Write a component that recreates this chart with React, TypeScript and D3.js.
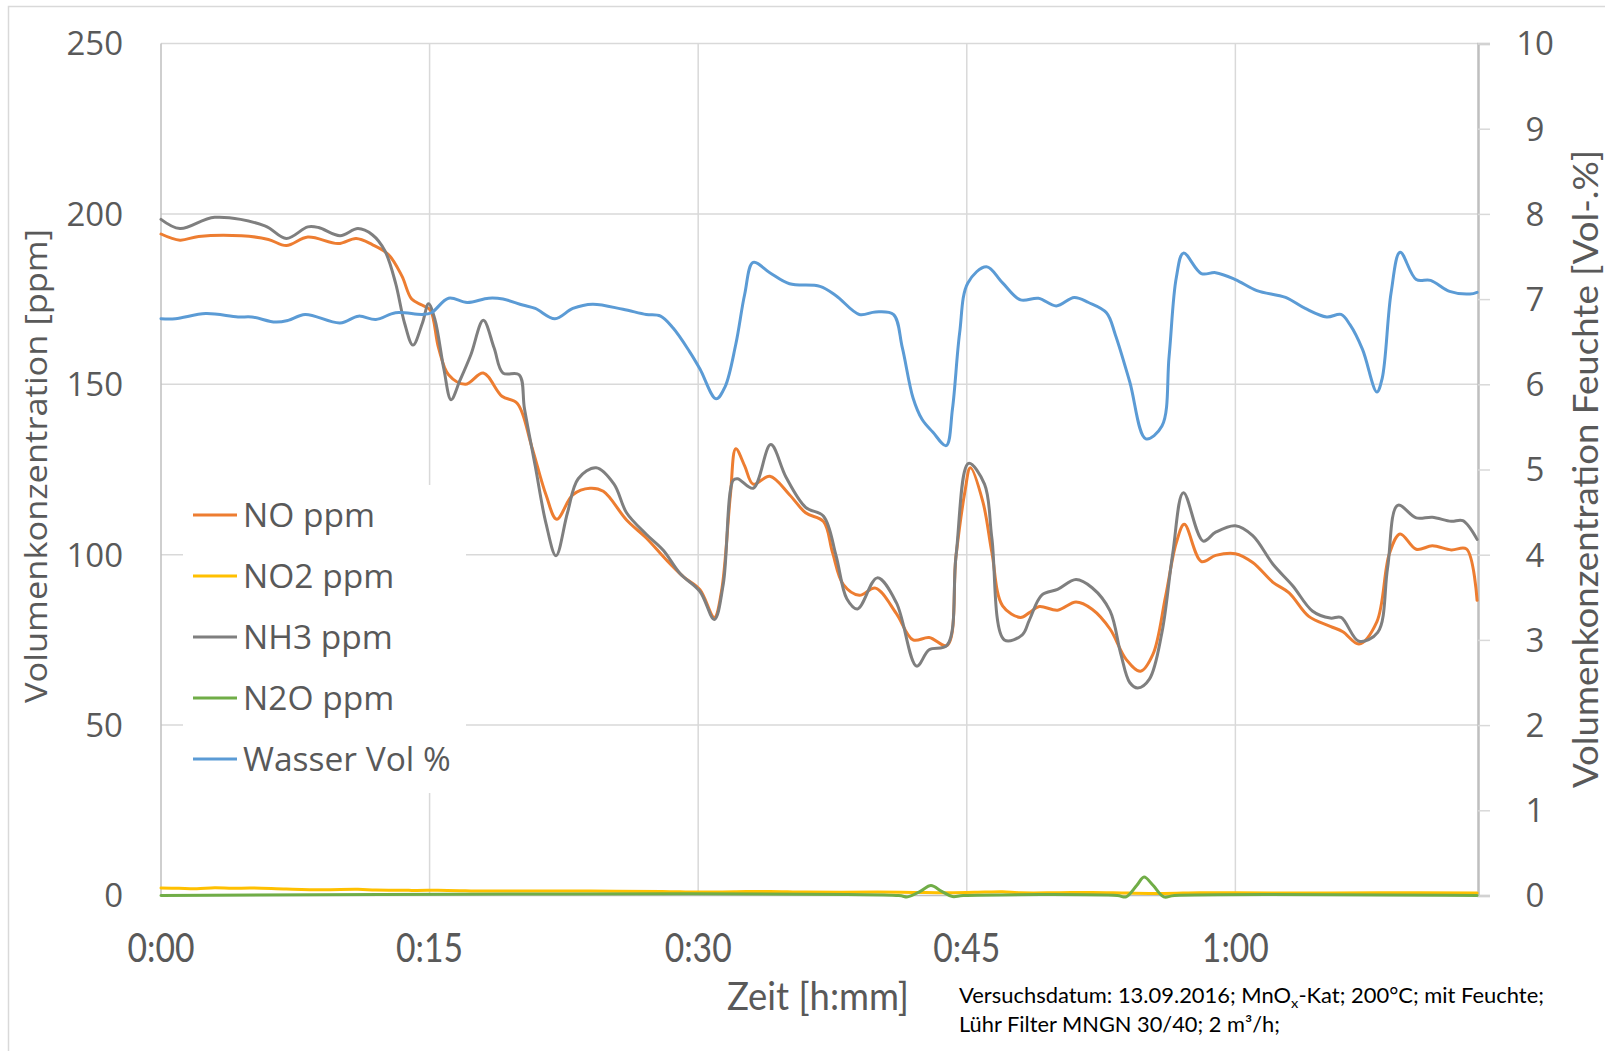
import React, { useEffect, useRef } from 'react';
import * as d3 from 'd3';

// minutes since start
const NO_T = [0, 1.06, 2.1, 4.5, 6.0, 7.0, 8.2, 9.9, 10.9, 11.8, 12.7, 13.45, 14.0, 14.6, 15.04, 15.5, 16.06, 17.0, 18.0, 19.04, 19.9, 20.7, 21.5, 22.1, 23.0, 23.96, 24.7, 26.0, 27.1, 28.2, 29.2, 30.1, 30.9, 31.3, 31.8, 32.1, 32.6, 33.07, 34.0, 35.1, 36.0, 37.0, 37.5, 38.1, 39.0, 39.9, 41.06, 42.0, 42.9, 43.9, 44.4, 44.9, 45.2, 45.9, 46.4, 47.0, 48.0, 48.5, 49.05, 50.07, 51.1, 52.0, 53.0, 53.9, 54.7, 55.4, 56.1, 56.7, 57.15, 58.1, 58.9, 60.0, 60.97, 62.1, 63.0, 64.1, 65.3, 66.0, 66.9, 67.9, 68.6, 69.2, 70.1, 71.0, 72.05, 72.9, 73.5];
const NO_PPM = [194.1, 192.3, 193.4, 193.6, 192.5, 190.7, 193.2, 191.3, 192.8, 191, 188.1, 181.8, 175, 173.2, 171.8, 160.7, 152.8, 150, 153.3, 146.5, 144.4, 131.8, 117.6, 110.4, 117.6, 119.5, 118.6, 110.2, 104.9, 98.6, 93.4, 89.7, 81.6, 89.2, 117.6, 131.1, 126, 120.7, 123, 117.6, 112.3, 109.7, 100.7, 91.3, 88.1, 90.2, 82.8, 75, 75.7, 73.4, 99.7, 118.6, 125.5, 115.5, 100.7, 85, 81.6, 83, 84.8, 83.7, 86.1, 84, 78.2, 69.3, 65.8, 70.8, 87.7, 103.5, 108.9, 98, 99.8, 100.3, 97.7, 91.9, 88.8, 81.9, 79, 77.4, 73.8, 80.3, 100.3, 106.1, 101.6, 102.6, 101.4, 101.7, 86.6];

const NO2_T = [0, 1, 2, 3, 4, 5, 7, 9, 11, 12, 14, 16, 18, 20, 24, 28, 30, 32, 34, 36, 40, 42, 44, 46, 47, 48, 50, 52, 54, 56, 58, 60, 64, 68, 73.5];
const NO2_PPM = [2.2, 2.1, 2.0, 2.3, 2.1, 2.2, 1.9, 1.7, 1.8, 1.6, 1.5, 1.5, 1.3, 1.3, 1.3, 1.2, 1.0, 1.1, 1.2, 1.0, 1.0, 0.9, 0.8, 1.0, 1.1, 0.8, 0.8, 0.9, 0.7, 0.6, 0.8, 0.8, 0.7, 0.8, 0.7];

const NH3_T = [0, 1.06, 3.0, 5.8, 7.0, 8.2, 8.8, 10.0, 11.0, 11.8, 12.5, 13.1, 13.6, 14.07, 14.6, 14.94, 15.3, 15.8, 16.2, 16.7, 17.3, 18.0, 18.6, 19.1, 20.0, 20.3, 20.9, 21.5, 22.06, 22.7, 23.3, 24.3, 25.3, 26.0, 27.1, 28.05, 29.0, 30.1, 30.9, 31.4, 31.95, 32.2, 33.07, 34.05, 34.9, 36.0, 37.0, 37.7, 38.3, 38.9, 40.0, 41.06, 42.2, 42.9, 43.9, 44.4, 45.1, 45.99, 46.4, 47.1, 48.1, 48.5, 49.2, 50.07, 51.1, 52.0, 53.0, 53.6, 54.1, 54.55, 55.2, 55.9, 56.5, 57.1, 58.2, 58.9, 60.0, 60.97, 62.1, 63.2, 64.3, 65.3, 65.9, 66.9, 67.95, 68.5, 69.07, 70.1, 71.0, 72.05, 72.7, 73.5];
const NH3_PPM = [198.4, 195.7, 199, 196.5, 192.8, 196.2, 196, 193.6, 195.7, 193.9, 189.2, 179.7, 168, 161.5, 168, 173.6, 169, 154.4, 145.5, 151.2, 158.6, 168.8, 160.7, 153.3, 152.8, 142.8, 126, 109.2, 99.7, 112.3, 122.3, 125.5, 120.7, 112.3, 106, 101.3, 94.4, 89.2, 81, 91.3, 121.8, 122.3, 119.5, 132.3, 122.8, 113.9, 111.3, 99.7, 87.1, 84.1, 93.2, 86, 67.3, 72.1, 73.4, 99.7, 126.8, 120.7, 104.9, 75, 76.5, 80.9, 88.2, 89.8, 92.7, 90.3, 83.5, 70.9, 62.5, 60.9, 63.5, 77.2, 100.3, 118.2, 104, 106.6, 108.5, 105.6, 97.2, 90.9, 83.5, 81.4, 81.6, 74.6, 77.2, 96.1, 114.5, 110.8, 111, 109.8, 110, 104.5];

const N2O_T = [0, 41.2, 41.7, 42.4, 43.0, 43.6, 44.2, 44.8, 53.4, 53.9, 54.5, 54.9, 55.4, 56.0, 56.6, 73.5];
const N2O_PPM = [0, 0, -0.4, 1.2, 2.9, 1.2, -0.3, 0, 0, -0.4, 3.0, 5.4, 3.0, -0.4, 0, 0];

const WASSER_T = [0, 0.8, 2.5, 4.3, 5.07, 6.4, 7.1, 8.05, 10.0, 11.03, 12.0, 13.1, 14.6, 15.1, 16.06, 17.1, 18.3, 19.1, 20.2, 20.9, 22.0, 23.0, 24.1, 25.8, 27.1, 27.9, 28.6, 29.5, 30.1, 31.0, 31.5, 32.1, 32.6, 33.07, 34.0, 35.1, 36.8, 37.7, 39.0, 39.9, 40.9, 41.4, 42.0, 42.5, 43.1, 43.85, 44.2, 44.6, 45.06, 46.1, 47.0, 48.0, 49.0, 50.0, 51.0, 51.8, 52.8, 53.3, 54.1, 55.0, 55.9, 56.3, 56.7, 57.1, 58.1, 58.9, 60.0, 61.2, 62.8, 63.9, 65.1, 65.9, 66.4, 67.1, 67.9, 68.2, 68.7, 69.2, 70.1, 70.9, 71.96, 73.1, 73.5];
const WASSER_VOL = [6.77, 6.77, 6.83, 6.79, 6.79, 6.73, 6.75, 6.82, 6.72, 6.8, 6.76, 6.84, 6.82, 6.84, 7.01, 6.96, 7.01, 7.0, 6.93, 6.89, 6.77, 6.89, 6.94, 6.88, 6.82, 6.8, 6.66, 6.39, 6.18, 5.83, 5.97, 6.47, 7.06, 7.43, 7.31, 7.18, 7.15, 7.04, 6.82, 6.85, 6.82, 6.43, 5.84, 5.59, 5.44, 5.28, 5.71, 6.6, 7.19, 7.38, 7.19, 6.99, 7.01, 6.92, 7.02, 6.96, 6.84, 6.58, 6.03, 5.36, 5.51, 6.33, 7.25, 7.54, 7.3, 7.31, 7.23, 7.1, 7.02, 6.89, 6.79, 6.82, 6.7, 6.41, 5.91, 6.07, 7.08, 7.55, 7.23, 7.22, 7.09, 7.06, 7.08];

const X_TICKS = [0, 15, 30, 45, 60];
const X_TICK_LABELS = ['0:00', '0:15', '0:30', '0:45', '1:00'];
const LEFT_TICKS = [0, 50, 100, 150, 200, 250];
const RIGHT_TICKS = [0, 1, 2, 3, 4, 5, 6, 7, 8, 9, 10];

const SERIES = [
  { name: 'NO ppm', t: NO_T, v: NO_PPM, axis: 'left', color: '#ED7D31' },
  { name: 'NO2 ppm', t: NO2_T, v: NO2_PPM, axis: 'left', color: '#FFC000' },
  { name: 'NH3 ppm', t: NH3_T, v: NH3_PPM, axis: 'left', color: '#7F7F7F' },
  { name: 'N2O ppm', t: N2O_T, v: N2O_PPM, axis: 'left', color: '#70AD47' },
  { name: 'Wasser Vol %', t: WASSER_T, v: WASSER_VOL, axis: 'right', color: '#5B9BD5' },
];

const W = 1605;
const H = 1051;
const TEXT = '#595959';
const GRID = '#d9d9d9';
const AXIS = '#bfbfbf';
const SANS = '"Open Sans", "DejaVu Sans", sans-serif';
const NARROW = 'Lato, "Open Sans", sans-serif';

const App: React.FC = () => {
  const svgRef = useRef<SVGSVGElement>(null);

  useEffect(() => {
    if (!svgRef.current) return;
    const margin = { top: 43.5, right: W - 1478, bottom: H - 895.5, left: 161 };
    const innerW = W - margin.left - margin.right;
    const innerH = H - margin.top - margin.bottom;

    const svg = d3.select(svgRef.current);
    svg.selectAll('*').remove();

    svg.append('rect').attr('width', W).attr('height', H).attr('fill', '#fff');
    svg
      .append('rect')
      .attr('x', 8.5)
      .attr('y', 6.5)
      .attr('width', W + 20)
      .attr('height', H + 20)
      .attr('fill', 'none')
      .attr('stroke', GRID)
      .attr('stroke-width', 1.5);

    const g = svg.append('g').attr('transform', `translate(${margin.left},${margin.top})`);

    const x = d3.scaleLinear().domain([0, 73.55]).range([0, innerW]);
    const yL = d3.scaleLinear().domain([0, 250]).range([innerH, 0]);
    const yR = d3.scaleLinear().domain([0, 10]).range([innerH, 0]);

    // grid
    g.append('g')
      .selectAll('line')
      .data(LEFT_TICKS.slice(1))
      .join('line')
      .attr('x1', 0)
      .attr('x2', innerW)
      .attr('y1', (d) => yL(d))
      .attr('y2', (d) => yL(d))
      .attr('stroke', GRID)
      .attr('stroke-width', 1.5);
    g.append('g')
      .selectAll('line')
      .data(X_TICKS.slice(1))
      .join('line')
      .attr('x1', (d) => x(d))
      .attr('x2', (d) => x(d))
      .attr('y1', 0)
      .attr('y2', innerH)
      .attr('stroke', GRID)
      .attr('stroke-width', 1.5);

    // axes lines
    g.append('line').attr('x1', 0).attr('x2', 0).attr('y1', 0).attr('y2', innerH).attr('stroke', AXIS).attr('stroke-width', 1.5);
    g.append('line').attr('x1', 0).attr('x2', innerW).attr('y1', innerH).attr('y2', innerH).attr('stroke', AXIS).attr('stroke-width', 1.5);

    const right = g.append('g').attr('transform', `translate(${innerW},0)`);
    right.call(d3.axisRight(yR).tickValues(RIGHT_TICKS).tickSize(12).tickPadding(0).tickFormat(() => ''));
    right.select('.domain').attr('stroke', AXIS).attr('stroke-width', 2.5);
    right.selectAll('.tick line').attr('stroke', GRID).attr('stroke-width', 1.5);

    right
      .selectAll('text.rt')
      .data(RIGHT_TICKS)
      .join('text')
      .attr('class', 'rt')
      .attr('x', 57)
      .attr('y', (d) => yR(d))
      .attr('dy', '0.36em')
      .attr('text-anchor', 'middle')
      .attr('fill', TEXT)
      .attr('font-family', SANS)
      .attr('font-size', 33)
      .text((d) => String(d));

    g.selectAll('text.lt')
      .data(LEFT_TICKS)
      .join('text')
      .attr('class', 'lt')
      .attr('x', -38)
      .attr('y', (d) => yL(d))
      .attr('dy', '0.36em')
      .attr('text-anchor', 'end')
      .attr('fill', TEXT)
      .attr('font-family', SANS)
      .attr('font-size', 33)
      .text((d) => String(d));

    g.selectAll('text.xt')
      .data(X_TICKS)
      .join('text')
      .attr('class', 'xt')
      .attr('x', (d) => x(d))
      .attr('y', innerH + 66)
      .attr('text-anchor', 'middle')
      .attr('fill', TEXT)
      .attr('font-family', NARROW)
      .attr('font-size', 40)
      .attr('textLength', 67)
      .attr('lengthAdjust', 'spacingAndGlyphs')
      .text((_, i) => X_TICK_LABELS[i]);

    // series
    for (const s of SERIES) {
      const ys = s.axis === 'left' ? yL : yR;
      const pts: [number, number][] = s.t.map((t, i) => [t, s.v[i]]);
      const line = d3
        .line<[number, number]>()
        .x((d) => x(d[0]))
        .y((d) => ys(d[1]))
        .curve(d3.curveCatmullRom.alpha(0.5));
      g.append('path')
        .datum(pts)
        .attr('d', line)
        .attr('fill', 'none')
        .attr('stroke', s.color)
        .attr('stroke-width', 3)
        .attr('stroke-linejoin', 'round')
        .attr('stroke-linecap', 'round');
    }

    // legend
    const legend = svg.append('g').attr('transform', 'translate(183,485)');
    legend.append('rect').attr('width', 283).attr('height', 308).attr('fill', '#fff');
    SERIES.forEach((s, i) => {
      const ly = 30 + i * 61;
      legend.append('line').attr('x1', 10).attr('x2', 54).attr('y1', ly).attr('y2', ly).attr('stroke', s.color).attr('stroke-width', 3);
      legend
        .append('text')
        .attr('x', 60)
        .attr('y', ly)
        .attr('dy', '0.36em')
        .attr('fill', TEXT)
        .attr('font-family', SANS)
        .attr('font-size', 33.5)
        .text(s.name);
    });

    // axis titles
    svg
      .append('text')
      .attr('transform', 'translate(47,466) rotate(-90)')
      .attr('text-anchor', 'middle')
      .attr('fill', TEXT)
      .attr('font-family', SANS)
      .attr('font-size', 31)
      .attr('textLength', 474)
      .attr('lengthAdjust', 'spacingAndGlyphs')
      .text('Volumenkonzentration [ppm]');

    svg
      .append('text')
      .attr('transform', 'translate(1598,469) rotate(-90)')
      .attr('text-anchor', 'middle')
      .attr('fill', TEXT)
      .attr('font-family', NARROW)
      .attr('font-size', 34)
      .attr('textLength', 638)
      .attr('lengthAdjust', 'spacingAndGlyphs')
      .text('Volumenkonzentration Feuchte [Vol-.%]');

    svg
      .append('text')
      .attr('x', 818)
      .attr('y', 1010)
      .attr('text-anchor', 'middle')
      .attr('fill', TEXT)
      .attr('font-family', NARROW)
      .attr('font-size', 38)
      .attr('textLength', 182)
      .attr('lengthAdjust', 'spacingAndGlyphs')
      .text('Zeit [h:mm]');

    // note
    const note1 = svg
      .append('text')
      .attr('x', 959)
      .attr('y', 1003)
      .attr('fill', '#000')
      .attr('font-family', NARROW)
      .attr('font-size', 21)
      .attr('textLength', 585)
      .attr('lengthAdjust', 'spacingAndGlyphs');
    note1.append('tspan').text('Versuchsdatum: 13.09.2016; MnO');
    note1.append('tspan').attr('font-size', 14).attr('dy', 5).text('x');
    note1.append('tspan').attr('dy', -5).text('-Kat; 200°C; mit Feuchte;');

    const note2 = svg
      .append('text')
      .attr('x', 959)
      .attr('y', 1032)
      .attr('fill', '#000')
      .attr('font-family', NARROW)
      .attr('font-size', 21)
      .attr('textLength', 321)
      .attr('lengthAdjust', 'spacingAndGlyphs');
    note2.append('tspan').text('Lühr Filter MNGN 30/40; 2 m³/h;');
  }, []);

  return (
    <svg
      ref={svgRef}
      width={W}
      height={H}
      style={{ position: 'absolute', left: 0, top: 0, display: 'block' }}
      role="img"
      aria-label="Volumenkonzentration über Zeit"
    />
  );
};

export default App;
